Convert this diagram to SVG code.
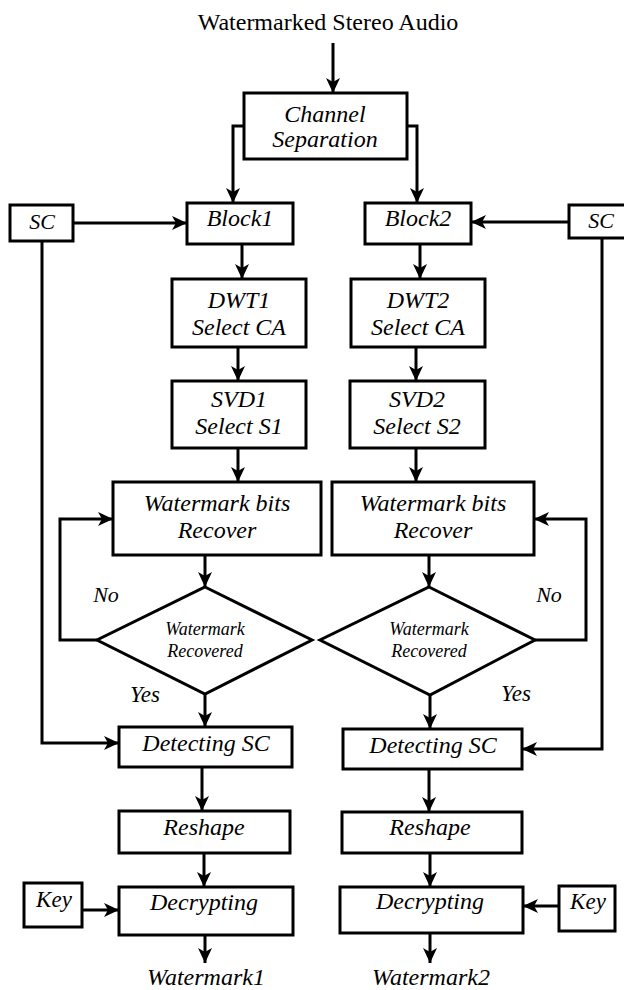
<svg xmlns="http://www.w3.org/2000/svg" width="624" height="990" viewBox="0 0 624 990">
<defs>
<style>
.box{fill:#fff;stroke:#000;stroke-width:3}
.c{fill:none;stroke:#000;stroke-width:3}
.t{font-family:"Liberation Serif","Times New Roman",serif;font-style:italic;font-size:24px;text-anchor:middle;fill:#000}
.s{font-size:18px}
.title{font-family:"Liberation Serif","Times New Roman",serif;font-size:24px;text-anchor:middle;fill:#000}
</style>
<marker id="ah" markerUnits="userSpaceOnUse" markerWidth="15" markerHeight="14" refX="15" refY="7" orient="auto">
<path d="M0,0 L15,7 L0,14 L4,7 z" fill="#000"/>
</marker>
</defs>
<rect width="624" height="990" fill="#fff"/>
<text class="title" x="328" y="30">Watermarked Stereo Audio</text>
<g id="connectors" class="c" marker-end="url(#ah)">
<path d="M333,43 V93"/>
<path d="M244,126 H233 V203"/>
<path d="M407,126 H417 V203"/>
<path d="M73,223 H187"/>
<path d="M569,222 H471"/>
<path d="M42,241 V743 H119"/>
<path d="M602,238 V749 H522"/>
<path d="M242,244 V279"/>
<path d="M420,244 V279"/>
<path d="M238,347 V381"/>
<path d="M416,347 V381"/>
<path d="M238,448 V482"/>
<path d="M416,448 V482"/>
<path d="M97,640 H60 V519 H113"/>
<path d="M535,640 H586 V519 H534"/>
<path d="M205,555 V587"/>
<path d="M429,555 V587"/>
<path d="M205,694 V727"/>
<path d="M430,695 V729"/>
<path d="M202,767 V811"/>
<path d="M429,769 V812"/>
<path d="M204,853 V887"/>
<path d="M430,853 V887"/>
<path d="M82,910 H119"/>
<path d="M559,906 H523"/>
<path d="M205,935 V963"/>
<path d="M430,933 V963"/>
</g>
<g id="channel"><rect class="box" x="244" y="93" width="163" height="66"/><text class="t" x="325" y="122">Channel</text><text class="t" x="325" y="147">Separation</text></g>
<g id="block1"><rect class="box" x="187" y="203" width="106" height="41"/><text class="t" x="240" y="226">Block1</text></g>
<g id="block2"><rect class="box" x="365" y="203" width="106" height="41"/><text class="t" x="418" y="226">Block2</text></g>
<g id="sc1"><rect class="box" x="10" y="205" width="63" height="36"/><text class="t" x="42" y="229" style="font-size:22px">SC</text></g>
<g id="sc2"><rect class="box" x="569" y="205" width="62" height="33"/><text class="t" x="601" y="228" style="font-size:22px">SC</text></g>
<g id="dwt1"><rect class="box" x="172" y="279" width="134" height="68"/><text class="t" x="239" y="308">DWT1</text><text class="t" x="239" y="335">Select CA</text></g>
<g id="dwt2"><rect class="box" x="351" y="279" width="134" height="68"/><text class="t" x="418" y="308">DWT2</text><text class="t" x="418" y="335">Select CA</text></g>
<g id="svd1"><rect class="box" x="172" y="381" width="134" height="67"/><text class="t" x="239" y="407">SVD1</text><text class="t" x="239" y="434">Select S1</text></g>
<g id="svd2"><rect class="box" x="350" y="381" width="135" height="67"/><text class="t" x="417" y="407">SVD2</text><text class="t" x="417" y="434">Select S2</text></g>
<g id="wb1"><rect class="box" x="113" y="482" width="208" height="73"/><text class="t" x="217" y="511">Watermark bits</text><text class="t" x="217" y="538">Recover</text></g>
<g id="wb2"><rect class="box" x="332" y="482" width="202" height="73"/><text class="t" x="433" y="511">Watermark bits</text><text class="t" x="433" y="538">Recover</text></g>
<g id="dec1"><polygon class="box" points="205,587 312,640 205,694 97,640"/><text class="t s" x="205" y="635">Watermark</text><text class="t s" x="205" y="657">Recovered</text></g>
<g id="dec2"><polygon class="box" points="429,587 535,640 430,695 320,640"/><text class="t s" x="429" y="635">Watermark</text><text class="t s" x="429" y="657">Recovered</text></g>
<g id="labels">
<text class="t" x="106" y="602" style="font-size:22px">No</text>
<text class="t" x="549" y="602" style="font-size:22px">No</text>
<text class="t" x="145" y="702" style="font-size:23px">Yes</text>
<text class="t" x="516" y="701" style="font-size:23px">Yes</text>
</g>
<g id="det1"><rect class="box" x="119" y="727" width="173" height="40"/><text class="t" x="206" y="751">Detecting SC</text></g>
<g id="det2"><rect class="box" x="343" y="729" width="179" height="40"/><text class="t" x="433" y="753">Detecting SC</text></g>
<g id="res1"><rect class="box" x="119" y="811" width="171" height="42"/><text class="t" x="204" y="835">Reshape</text></g>
<g id="res2"><rect class="box" x="342" y="812" width="180" height="41"/><text class="t" x="430" y="835">Reshape</text></g>
<g id="decr1"><rect class="box" x="119" y="887" width="174" height="48"/><text class="t" x="204" y="910">Decrypting</text></g>
<g id="decr2"><rect class="box" x="340" y="887" width="183" height="46"/><text class="t" x="430" y="909">Decrypting</text></g>
<g id="key1"><rect class="box" x="24" y="883" width="58" height="44"/><text class="t" x="54" y="907" style="font-size:23px">Key</text></g>
<g id="key2"><rect class="box" x="559" y="886" width="56" height="45"/><text class="t" x="588" y="909" style="font-size:23px">Key</text></g>
<g id="out1"><text class="t" x="206" y="985">Watermark1</text></g>
<g id="out2"><text class="t" x="431" y="985">Watermark2</text></g>
</svg>
